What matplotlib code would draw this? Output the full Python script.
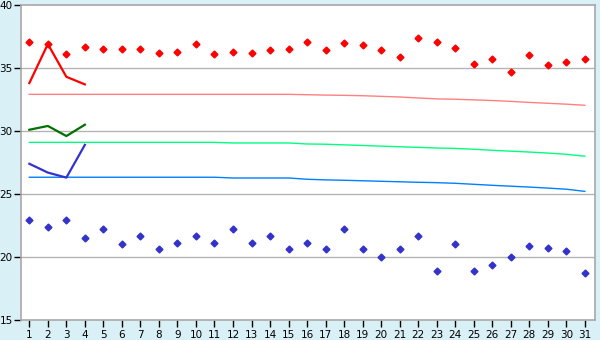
import matplotlib
matplotlib.use("Agg")
import matplotlib.pyplot as plt

days = list(range(1, 32))

# daily maxima / minima (scatter)
high_pts = [37.1, 36.9, 36.1, 36.7, 36.5, 36.5, 36.5, 36.2, 36.3, 36.9,
            36.1, 36.3, 36.2, 36.4, 36.5, 37.1, 36.4, 37.0, 36.8, 36.4,
            35.9, 37.4, 37.1, 36.6, 35.3, 35.7, 34.7, 36.0, 35.2, 35.5, 35.7]
low_pts = [22.9, 22.4, 22.9, 21.5, 22.2, 21.0, 21.7, 20.6, 21.1, 21.7,
           21.1, 22.2, 21.1, 21.7, 20.6, 21.1, 20.6, 22.2, 20.6, 20.0,
           20.6, 21.7, 18.9, 21.0, 18.9, 19.4, 20.0, 20.9, 20.7, 20.5, 18.7]

# current month lines (first 4 days)
cur_days = [1, 2, 3, 4]
cur_high = [33.8, 36.9, 34.3, 33.7]
cur_mean = [30.1, 30.4, 29.6, 30.5]
cur_low = [27.4, 26.7, 26.3, 28.9]

# normals
norm_high = [32.91] * 15 + [32.88, 32.85, 32.83, 32.8, 32.75, 32.7, 32.62,
                            32.55, 32.52, 32.47, 32.42, 32.35, 32.27, 32.2,
                            32.13, 32.04]
norm_mean = [29.1] * 11 + [29.05, 29.05, 29.05, 29.05, 28.97, 28.95, 28.9,
                           28.85, 28.8, 28.75, 28.7, 28.65, 28.62, 28.55,
                           28.47, 28.4, 28.33, 28.25, 28.15, 28.0]
norm_low = [26.33] * 11 + [26.27, 26.27, 26.27, 26.27, 26.17, 26.12, 26.09,
                           26.05, 26.01, 25.97, 25.93, 25.9, 25.85, 25.77,
                           25.69, 25.62, 25.55, 25.47, 25.38, 25.21]

y_ticks = [15, 20, 25, 30, 35, 40]

fig = plt.figure(figsize=(6, 3.4), dpi=100, facecolor="#daf0f7")
ax = fig.add_axes([21 / 600, 20 / 340, 574 / 600, 315 / 340])
ax.set_facecolor("white")

for y in [20, 25, 30, 35]:
    ax.axhline(y, color="#b4b4b4", lw=1, zorder=1)

ax.plot(days, norm_high, color="#ff8080", lw=1, zorder=2)
ax.plot(days, norm_mean, color="#00ff80", lw=1, zorder=2)
ax.plot(days, norm_low, color="#0080ff", lw=1, zorder=2)

ax.plot(cur_days, cur_high, color="#ff0000", lw=1.6, zorder=3)
ax.plot(cur_days, cur_mean, color="#007000", lw=1.6, zorder=3)
ax.plot(cur_days, cur_low, color="#3333cc", lw=1.6, zorder=3)

ax.plot(days, high_pts, ls="none", marker="D", ms=3.5, color="#ff0000", zorder=4)
ax.plot(days, low_pts, ls="none", marker="D", ms=3.5, color="#3333cc", zorder=4)

ax.set_xlim(0.55, 31.55)
ax.set_ylim(15, 40)
ax.set_xticks(days)
ax.set_yticks(y_ticks)
ax.tick_params(axis="both", direction="out", length=5, width=1,
               color="#000000", labelsize=7.5, pad=2)
ax.tick_params(axis="y", pad=1)
for s in ax.spines.values():
    s.set_color("#a8a8a8")
    s.set_linewidth(1.2)

fig.savefig("out.png", dpi=100, facecolor=fig.get_facecolor())
